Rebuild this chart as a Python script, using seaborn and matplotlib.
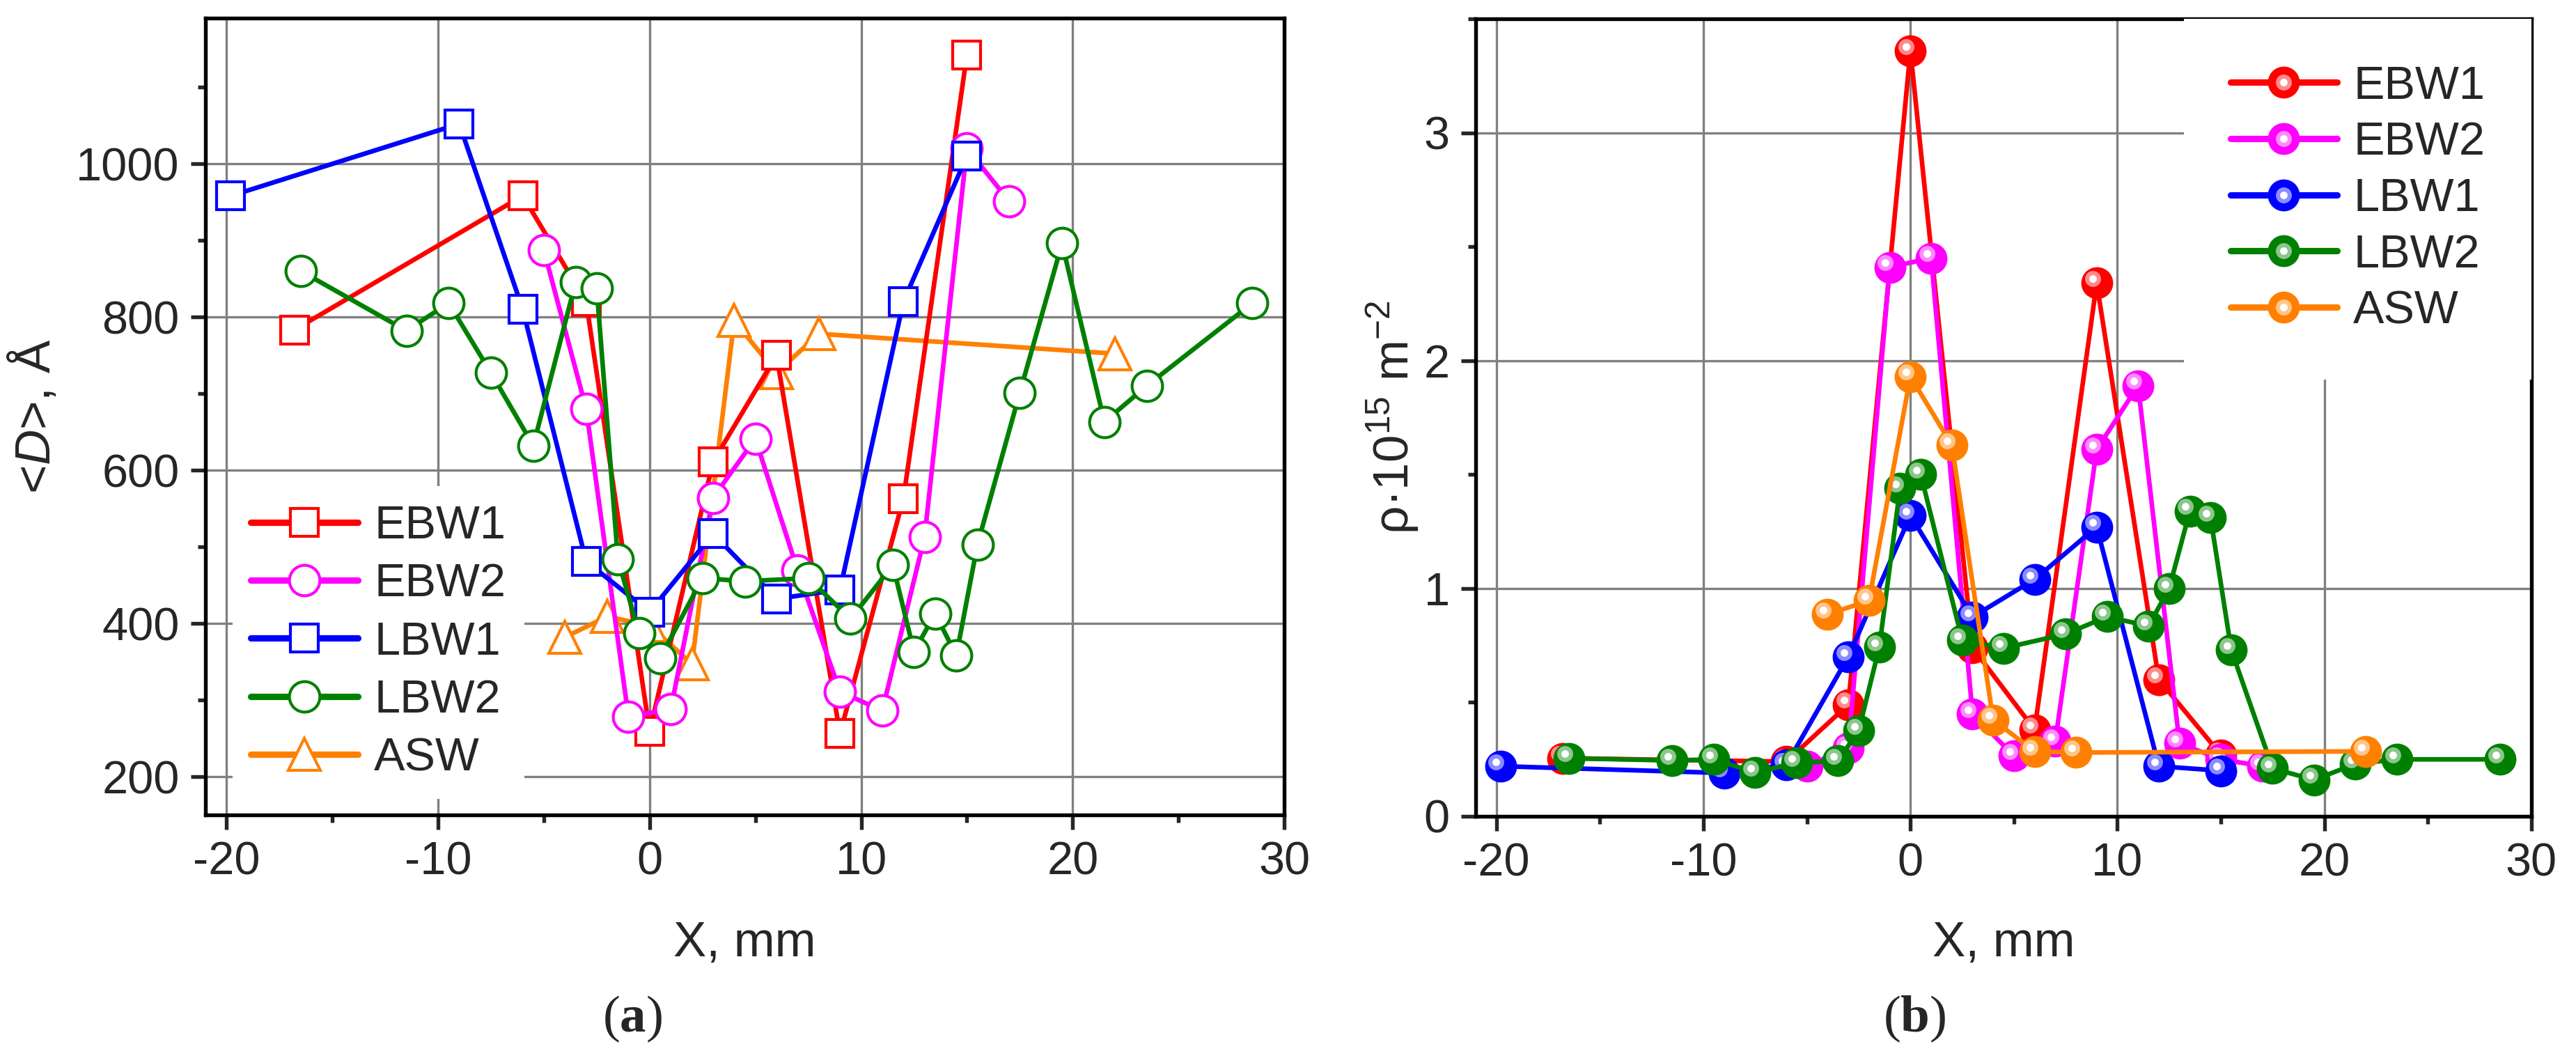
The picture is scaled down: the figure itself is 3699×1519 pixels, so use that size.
import numpy as np
import pandas as pd
import matplotlib
matplotlib.use("Agg")
import matplotlib.pyplot as plt
import seaborn as sns
from matplotlib.ticker import MultipleLocator
from matplotlib.transforms import ScaledTranslation
from matplotlib.legend_handler import HandlerTuple
from matplotlib.lines import Line2D
from matplotlib.colors import to_rgb

# ---------------- data ----------------
series = ["EBW1", "EBW2", "LBW1", "LBW2", "ASW"]

ebw1_x = [-16.8, -6, -3, 0, 3, 6, 9, 12, 15]
ebw1_D = [783, 958, 820, 259, 611, 750, 256, 563, 1142]
ebw1_rho = [0.255, 0.24, 0.49, 3.36, 0.74, 0.38, 2.34, 0.60, 0.27]

ebw2_x = [-5, -3, -1, 1, 3, 5, 7, 9, 11, 13, 15, 17]
ebw2_D = [887, 680, 278, 288, 564, 641, 469, 311, 286, 513, 1020, 951]
ebw2_rho = [0.22, 0.30, 2.41, 2.45, 0.45, 0.265, 0.33, 1.61, 1.89, 0.32, 0.25, 0.22]

lbw1_x = [-19.8, -9, -6, -3, 0, 3, 6, 9, 12, 15]
lbw1_D = [958, 1052, 810, 481, 415, 517, 432, 444, 820, 1010]
lbw1_rho = [0.22, 0.19, 0.225, 0.70, 1.32, 0.875, 1.04, 1.27, 0.22, 0.20]

lbw2_x = [-16.5, -11.5, -9.5, -7.5, -5.5, -3.5, -2.5, -1.5, -0.5, 0.5, 2.5, 4.5,
          7.5, 9.5, 11.5, 12.5, 13.5, 14.5, 15.5, 17.5, 19.5, 21.5, 23.5, 28.5]
lbw2_D = [860, 782, 818, 727, 632, 845, 837, 484, 387, 355, 459, 455,
          459, 406, 476, 363, 413, 358, 503, 701, 896, 663, 710, 818]
lbw2_rho = [0.255, 0.245, 0.25, 0.193, 0.234, 0.244, 0.375, 0.743, 1.44, 1.50, 0.774, 0.738,
            0.80, 0.876, 0.835, 1.0, 1.34, 1.31, 0.73, 0.21, 0.16, 0.23, 0.25, 0.25]

asw_x = [-4, -2, 0, 2, 4, 6, 8, 22]
asw_D = [382, 409, 397, 347, 795, 727, 778, 752]
asw_rho = [0.886, 0.947, 1.93, 1.63, 0.423, 0.285, 0.28, 0.285]

x_ticks = [-20, -10, 0, 10, 20, 30]
D_ticks = [200, 400, 600, 800, 1000]
rho_ticks = [0, 1, 2, 3]

# ---------------- style ----------------
sns.set_style("ticks")
plt.rcParams["font.family"] = ["Liberation Sans", "DejaVu Sans"]
plt.rcParams["mathtext.fontset"] = "custom"
plt.rcParams["mathtext.rm"] = "Liberation Sans"
plt.rcParams["mathtext.it"] = "Liberation Sans:italic"
plt.rcParams["mathtext.bf"] = "Liberation Serif:bold"
plt.rcParams["axes.unicode_minus"] = False

colors = {"EBW1": "#FF0000", "EBW2": "#FF00FF", "LBW1": "#0000FF",
          "LBW2": "#008000", "ASW": "#FF8000"}
markers_a = {"EBW1": "s", "EBW2": "o", "LBW1": "s", "LBW2": "o", "ASW": "^"}
msize_a = {"EBW1": 9.5, "EBW2": 10.5, "LBW1": 9.5, "LBW2": 10.5, "ASW": 11}

data = {
    "EBW1": (ebw1_x, ebw1_D, ebw1_rho),
    "EBW2": (ebw2_x, ebw2_D, ebw2_rho),
    "LBW1": (lbw1_x, lbw1_D, lbw1_rho),
    "LBW2": (lbw2_x, lbw2_D, lbw2_rho),
    "ASW": (asw_x, asw_D, asw_rho),
}

W, H = 3699, 1519
fig = plt.figure(figsize=(W / 300, H / 300), dpi=300)
axA = fig.add_axes([295 / W, 1 - 1170 / H, (1844 - 295) / W, (1170 - 26) / H])
axB = fig.add_axes([2119 / W, 1 - 1172 / H, (3635 - 2119) / W, (1172 - 27) / H])

FS = 16
grid_kw = dict(color="#808080", linewidth=0.8)


def style_axes(ax):
    ax.set_axisbelow(True)
    ax.grid(True, which="major", **grid_kw)
    for s in ax.spines.values():
        s.set_visible(True)
        s.set_linewidth(1.3)
        s.set_color("black")
    ax.tick_params(which="major", direction="out", length=5, width=1.3,
                   labelsize=FS, pad=4, top=False, right=False)
    ax.tick_params(which="minor", direction="out", length=2.6, width=1.3,
                   top=False, right=False)
    ax.xaxis.set_minor_locator(MultipleLocator(5))


# ---------------- panel (a) ----------------
order_a = ["ASW", "EBW1", "EBW2", "LBW1", "LBW2"]
handles_a = {}
for z, name in enumerate(order_a):
    x, D, _ = data[name]
    c = colors[name]
    sns.lineplot(x=x, y=D, ax=axA, color=c, linewidth=1.6, marker=markers_a[name],
                 markersize=msize_a[name], markerfacecolor="white",
                 markeredgecolor=c, markeredgewidth=1.0, estimator=None,
                 sort=False, zorder=3 + z, legend=False)
    handles_a[name] = Line2D([], [], color=c, linewidth=2.2, marker=markers_a[name],
                             markersize=msize_a[name], markerfacecolor="white",
                             markeredgecolor=c, markeredgewidth=1.0)

style_axes(axA)
axA.set_xlim(-21, 30)
axA.set_ylim(150, 1190)
axA.set_xticks(x_ticks)
axA.set_yticks(D_ticks)
axA.yaxis.set_minor_locator(MultipleLocator(100))
axA.set_xlabel("X, mm", fontsize=17)
axA.set_ylabel(r"<$D$>, Å", fontsize=17)
axA.xaxis.set_label_coords(0.5, -0.133)
axA.yaxis.set_label_coords(-0.134, 0.5)

legA = axA.legend([handles_a[n] for n in series], series, loc="lower left",
                  bbox_to_anchor=(0.025, 0.02), borderaxespad=0, frameon=True,
                  facecolor="white", edgecolor="none", framealpha=1,
                  fontsize=FS, handlelength=2.3, handletextpad=0.35,
                  labelspacing=0.32, borderpad=0.4, fancybox=False)
legA.set_zorder(20)

# ---------------- panel (b) ----------------
order_b = ["EBW1", "EBW2", "LBW1", "LBW2", "ASW"]
off = ScaledTranslation(-1.5 / 72, 1.5 / 72, fig.dpi_scale_trans)
handles_b = {}
for z, name in enumerate(order_b):
    x, _, rho = data[name]
    c = colors[name]
    light = tuple(0.45 * np.array(to_rgb(c)) + 0.55)
    zz = 3 + 3 * z
    sns.lineplot(x=x, y=rho, ax=axB, color=c, linewidth=1.6, marker="o",
                 markersize=11, markeredgewidth=0, estimator=None, sort=False,
                 zorder=zz, legend=False)
    axB.plot(x, rho, linestyle="none", marker="o", markersize=5.5, color=light,
             markeredgewidth=0, transform=axB.transData + off, zorder=zz + 1)
    axB.plot(x, rho, linestyle="none", marker="o", markersize=2.6, color="white",
             markeredgewidth=0, transform=axB.transData + off, zorder=zz + 2)
    h_line = Line2D([], [], color=c, linewidth=2.2, marker="o", markersize=11,
                    markeredgewidth=0)
    h_l1 = Line2D([], [], linestyle="none", marker="o", markersize=5.5, color=light,
                  markeredgewidth=0)
    h_l2 = Line2D([], [], linestyle="none", marker="o", markersize=2.6, color="white",
                  markeredgewidth=0)
    handles_b[name] = (h_line, h_l1, h_l2)

style_axes(axB)
axB.set_xlim(-21, 30)
axB.set_ylim(0, 3.5)
axB.set_xticks(x_ticks)
axB.set_yticks(rho_ticks)
axB.yaxis.set_minor_locator(MultipleLocator(0.5))
axB.set_xlabel("X, mm", fontsize=17)
axB.set_ylabel(r"ρ·10$^{15}$ m$^{-2}$", fontsize=17)
axB.xaxis.set_label_coords(0.5, -0.131)
axB.yaxis.set_label_coords(-0.052, 0.5)

legB = axB.legend([handles_b[n] for n in series], series, loc="upper right",
                  bbox_to_anchor=(1.0, 1.0), borderaxespad=0, frameon=True,
                  facecolor="white", edgecolor="none", framealpha=1,
                  fontsize=FS, handlelength=2.3, handletextpad=0.35,
                  labelspacing=0.28, borderpad=1.0, fancybox=False,
                  handler_map={tuple: HandlerTuple(ndivide=1, pad=0)})
legB.set_zorder(30)

# ---------------- panel labels ----------------
fig.text(908 / W, 1 - 1463 / H, r"($\mathbf{a}$)", ha="center", va="center",
         fontsize=18, family=["Liberation Serif", "DejaVu Serif"])
fig.text(2749 / W, 1 - 1463 / H, r"($\mathbf{b}$)", ha="center", va="center",
         fontsize=18, family=["Liberation Serif", "DejaVu Serif"])

fig.savefig("out.png", dpi=300, facecolor="white")
